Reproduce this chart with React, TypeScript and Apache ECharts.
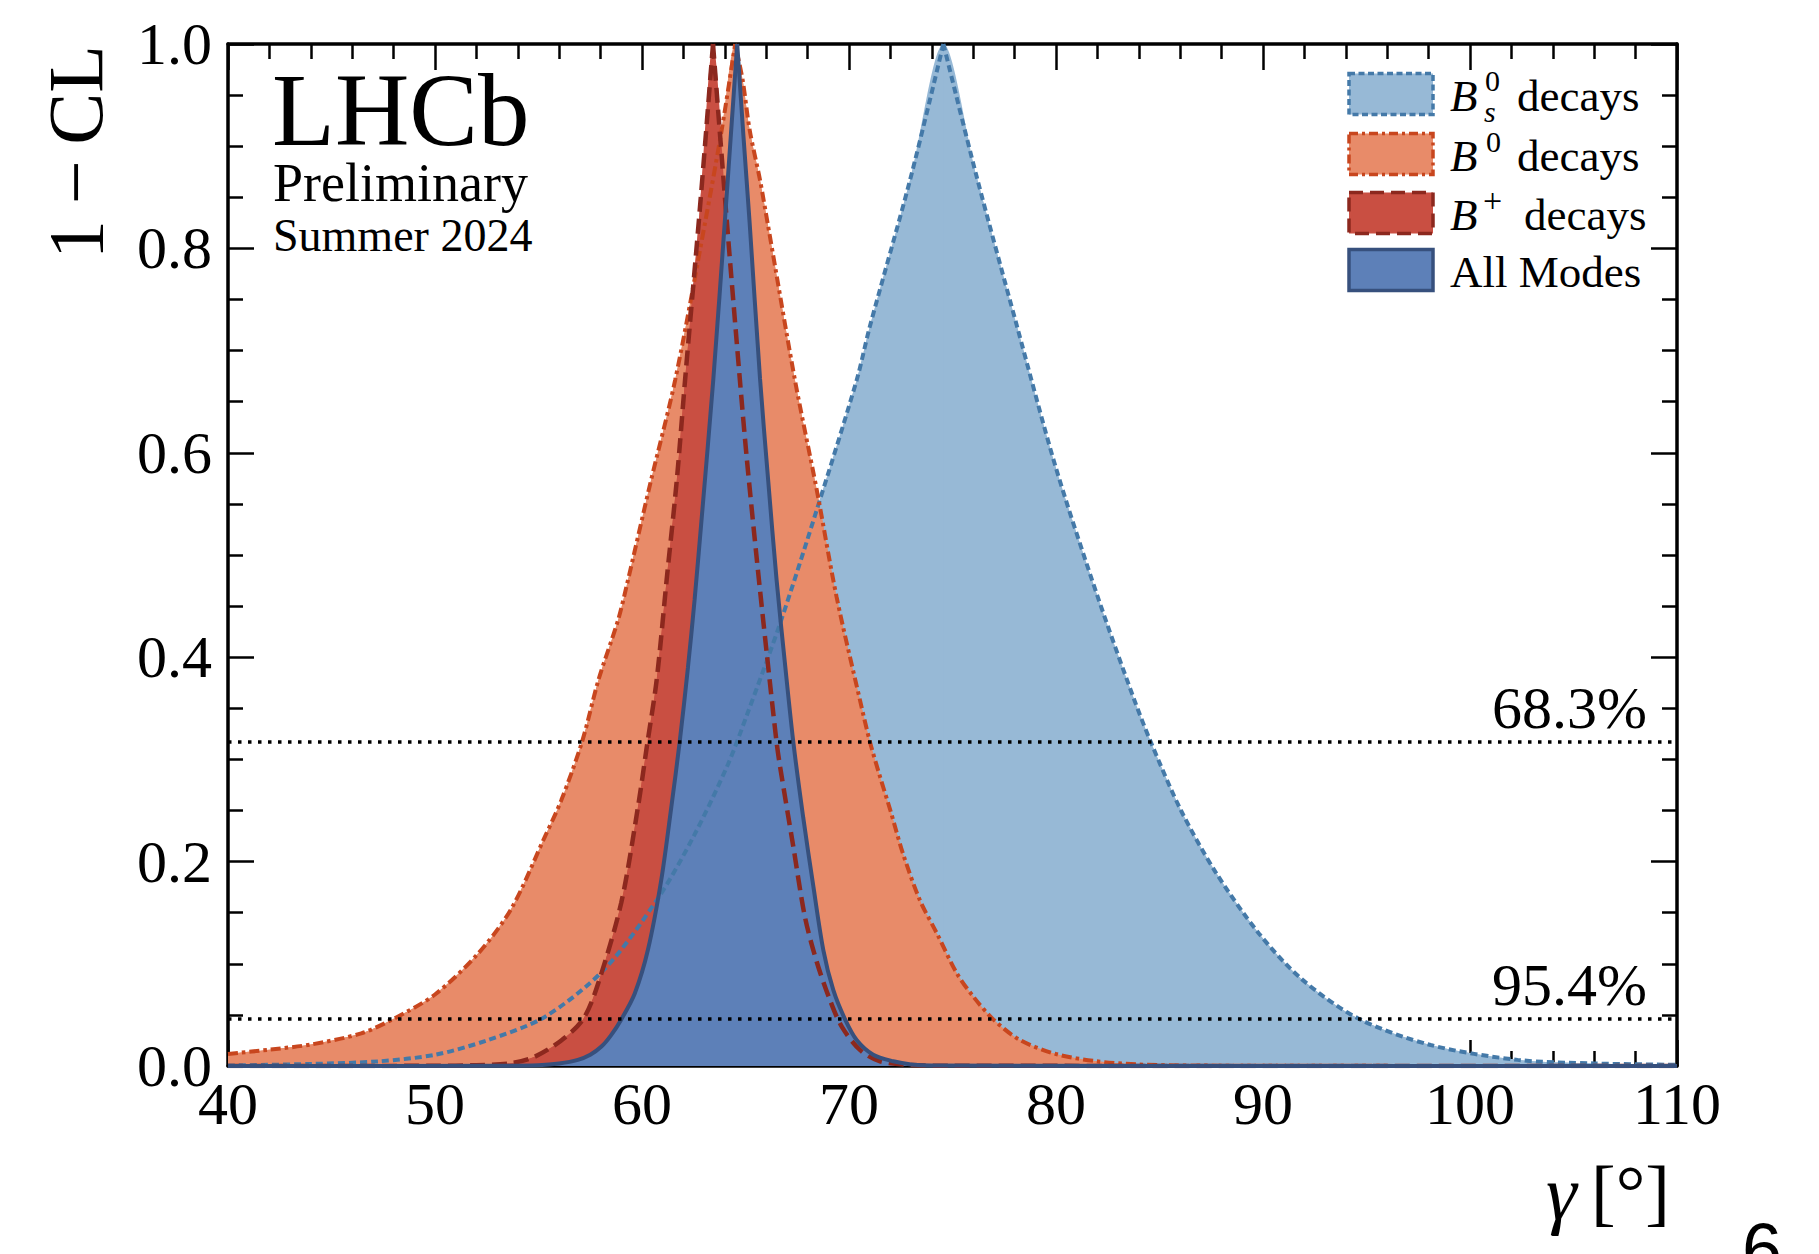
import React, { useEffect, useRef } from 'react';
import * as echarts from 'echarts';

const W = 1819;
const H = 1254;
const SERIF = "'Liberation Serif', 'Times New Roman', serif";

const xRange = [40, 110];
const yRange = [0, 1];
const clLevels = [0.317, 0.046];
const clLabels = ['68.3%', '95.4%'];

// B_s^0 decays
const bsLeft = [
  [40, 0.0005], [44, 0.002], [47.25, 0.0045], [50, 0.011], [52.5, 0.025], [55.3, 0.048],
  [58.2, 0.095], [60.8, 0.165], [62.5, 0.225], [64.15, 0.295], [65.06, 0.343], [66.67, 0.433],
  [68.44, 0.544], [70.37, 0.671], [71.0, 0.723], [72.95, 0.867], [74.56, 1.0],
];
const bsRight = [
  [74.56, 1.0], [76.17, 0.87], [78.1, 0.725], [80, 0.585], [82, 0.46], [83.75, 0.36],
  [84.58, 0.317], [86.04, 0.25], [87.7, 0.19], [89.79, 0.13], [91.87, 0.085], [94.58, 0.0467],
  [98.1, 0.0205], [102.3, 0.006], [106, 0.0025], [110, 0.0012],
];
// B^0 decays
const b0Left = [
  [40, 0.0117], [42, 0.016], [44, 0.021], [46.44, 0.032], [48.05, 0.0467], [50, 0.07],
  [52.08, 0.11], [53.69, 0.154], [55.3, 0.224], [56.1, 0.26], [57.1, 0.317], [57.9, 0.378],
  [58.84, 0.436], [59.26, 0.47], [60.4, 0.57], [61.6, 0.671], [63.04, 0.8245], [63.85, 0.916],
  [64.5, 1.0],
];
const b0Right = [
  [64.5, 1.0], [64.86, 0.965], [65.2, 0.916], [65.7, 0.867], [66.1, 0.821], [67.39, 0.671],
  [68.44, 0.564], [69.4, 0.459], [70.53, 0.358], [71.0, 0.318], [71.5, 0.283], [72.0, 0.25],
  [72.62, 0.207], [73.43, 0.162], [74.24, 0.13], [75.2, 0.091], [76.0, 0.068], [76.97, 0.0456],
  [78.26, 0.0254], [80.0, 0.0117], [81.97, 0.0046], [84, 0.0015], [87, 0.0004], [110, 0],
];
// B^+ decays
const bpLeft = [
  [40, 0], [50, 0.0002], [52, 0.0008], [53.69, 0.0028], [54.81, 0.009], [56.1, 0.025],
  [57.15, 0.0456], [57.87, 0.08], [59.0, 0.16], [59.81, 0.254], [60.23, 0.312], [60.71, 0.378],
  [61.19, 0.4755], [61.68, 0.573], [62.08, 0.671], [62.8, 0.84], [63.43, 1.0],
];
const bpRight = [
  [63.43, 1.0], [64.1, 0.826], [64.73, 0.671], [65.06, 0.595], [65.54, 0.497], [66.02, 0.405],
  [66.5, 0.317], [66.67, 0.293], [67.31, 0.2146], [67.87, 0.146], [68.44, 0.102], [69.08, 0.0646],
  [69.65, 0.0385], [70.53, 0.0157], [71.5, 0.0046], [73, 0.001], [75, 0.0002], [110, 0],
];
// All Modes
const allLeft = [
  [40, 0], [53, 0.0002], [55, 0.0008], [56, 0.0025], [56.9, 0.006], [57.5, 0.011],
  [58.04, 0.019], [58.5, 0.03], [59.0, 0.0456], [59.65, 0.071], [60.29, 0.114], [60.93, 0.182],
  [61.42, 0.254], [61.82, 0.317], [62.22, 0.39], [62.54, 0.456], [62.9, 0.54], [63.45, 0.673],
  [64.0, 0.826], [64.3, 0.913], [64.6, 1.0],
];
const allRight = [
  [64.6, 1.0], [64.9, 0.91], [65.2, 0.825], [65.7, 0.673], [66.1, 0.572], [66.5, 0.476],
  [66.9, 0.395], [67.31, 0.317], [67.79, 0.243], [68.28, 0.1755], [68.76, 0.1135], [69.24, 0.0744],
  [69.81, 0.0456], [70.37, 0.0254], [71.17, 0.011], [72.14, 0.0046], [73, 0.0015], [74, 0.0004],
  [110, 0],
];

const curves = [
  { name: 'Bs', left: bsLeft, right: bsRight, fill: '#97b9d6', stroke: '#4479a8', dash: [7, 4], width: 4 },
  { name: 'B0', left: b0Left, right: b0Right, fill: '#e88b69', stroke: '#c8461e', dash: [10, 4, 3.5, 4], width: 4 },
  { name: 'Bp', left: bpLeft, right: bpRight, fill: '#c94f42', stroke: '#8c281e', dash: [15, 7], width: 4.5 },
  { name: 'All', left: allLeft, right: allRight, fill: '#5d80b8', stroke: '#37507d', dash: 'solid' as any, width: 4 },
];

const legendRows = [
  { cy: 94, fill: '#97b9d6', stroke: '#4479a8', dash: [6, 3.5] },
  { cy: 154, fill: '#e88b69', stroke: '#c8461e', dash: [9, 4, 3, 4] },
  { cy: 213, fill: '#c94f42', stroke: '#8c281e', dash: [14, 7] },
  { cy: 270, fill: '#5d80b8', stroke: '#37507d', dash: null },
];

function txt(x: number, y: number, text: string, size: number, opts: any = {}) {
  const align = opts.align || 'left';
  const valign = opts.valign || 'middle';
  const style: any = {
    text,
    fill: '#000',
    fontSize: size,
    fontFamily: opts.family || SERIF,
    fontStyle: opts.italic ? 'italic' : 'normal',
    fontWeight: opts.weight || 'normal',
    textAlign: align,
    textVerticalAlign: valign,
    align,
    verticalAlign: valign,
  };
  if (opts.lineHeight) style.lineHeight = opts.lineHeight;
  return {
    type: 'text',
    x,
    y,
    rotation: opts.rotation || 0,
    silent: true,
    z: 100,
    style,
  };
}

function axisCommon(showLabel: boolean, isX: boolean) {
  return {
    type: 'value',
    min: isX ? xRange[0] : yRange[0],
    max: isX ? xRange[1] : yRange[1],
    interval: isX ? 10 : 0.2,
    splitLine: { show: false },
    axisLine: { show: true, onZero: false, lineStyle: { color: '#000', width: 3.5 } },
    axisTick: { show: true, inside: true, length: 26, lineStyle: { color: '#000', width: 2.5 } },
    minorTick: { show: true, splitNumber: isX ? 5 : 4, length: 15, lineStyle: { color: '#000', width: 2.5 } },
    axisLabel: showLabel
      ? {
          show: true,
          color: '#000',
          fontSize: 60,
          fontFamily: SERIF,
          margin: isX ? 8 : 16,
          formatter: isX ? (v: number) => String(Math.round(v)) : (v: number) => v.toFixed(1),
        }
      : { show: false },
  };
}

export default function App() {
  const ref = useRef<HTMLDivElement>(null);

  useEffect(() => {
    document.body.style.margin = '0';
    const chart = echarts.init(ref.current!, null, { renderer: 'svg', width: W, height: H });

    const areaOf = (d: number[][], fill: string) => ({
      type: 'line',
      data: d,
      smooth: 0.3,
      symbol: 'none',
      silent: true,
      z: 2,
      lineStyle: { width: 0, opacity: 0 },
      areaStyle: { color: fill, opacity: 1, origin: 'start' },
    });

    // full-curve fill underneath hides the seam between the two half fills
    const fillSeries = curves.flatMap((c) => [
      areaOf([...c.left, ...c.right.slice(1)], c.fill),
      areaOf(c.left, c.fill),
      areaOf(c.right, c.fill),
    ]);
    const lineSeries = curves.flatMap((c) =>
      [c.left, c.right].map((d) => ({
        type: 'line',
        data: d,
        smooth: 0.3,
        symbol: 'none',
        silent: true,
        z: 3,
        lineStyle: { color: c.stroke, width: c.width, type: c.dash, cap: 'butt' },
      }))
    );
    const clSeries = clLevels.map((v) => ({
      type: 'line',
      data: [
        [xRange[0], v],
        [xRange[1], v],
      ],
      symbol: 'none',
      silent: true,
      z: 4,
      lineStyle: { color: '#000', width: 3.5, type: [3.5, 6.5], cap: 'butt' },
    }));

    chart.setOption({
      animation: false,
      backgroundColor: '#fff',
      grid: { left: 228, right: 142, top: 44, bottom: 188 },
      xAxis: [
        { ...axisCommon(true, true), position: 'bottom' },
        { ...axisCommon(false, true), position: 'top' },
      ],
      yAxis: [
        { ...axisCommon(true, false), position: 'left' },
        { ...axisCommon(false, false), position: 'right' },
      ],
      series: [...fillSeries, ...lineSeries, ...clSeries],
    });

    const clGraphics = clLevels.map((v, i) => {
      const p = chart.convertToPixel({ gridIndex: 0 }, [xRange[1], v]) as number[];
      return txt(p[0] - 30, p[1] - 34, clLabels[i], 60, { align: 'right', lineHeight: 50 });
    });

    const legendGraphics: any[] = [];
    legendRows.forEach((r) => {
      legendGraphics.push({
        type: 'rect',
        shape: { x: 1349, y: r.cy - 20.5, width: 84, height: 41 },
        silent: true,
        z: 100,
        style: {
          fill: r.fill,
          stroke: r.stroke,
          lineWidth: 3.5,
          lineDash: r.dash || undefined,
        },
      });
    });
    // row 1
    legendGraphics.push(txt(1450, 96, 'B', 45, { italic: true, lineHeight: 36 }));
    legendGraphics.push(txt(1485, 80, '0', 30, { lineHeight: 26 }));
    legendGraphics.push(txt(1484, 111, 's', 30, { italic: true, lineHeight: 26 }));
    legendGraphics.push(txt(1517, 96, 'decays', 45, { lineHeight: 36 }));
    // row 2
    legendGraphics.push(txt(1450, 156, 'B', 45, { italic: true, lineHeight: 36 }));
    legendGraphics.push(txt(1486, 141, '0', 30, { lineHeight: 26 }));
    legendGraphics.push(txt(1517, 156, 'decays', 45, { lineHeight: 36 }));
    // row 3
    legendGraphics.push(txt(1450, 215, 'B', 45, { italic: true, lineHeight: 36 }));
    legendGraphics.push(txt(1483, 200, '+', 34, { lineHeight: 28 }));
    legendGraphics.push(txt(1524, 215, 'decays', 45, { lineHeight: 36 }));
    // row 4
    legendGraphics.push(txt(1450, 272, 'All Modes', 45, { lineHeight: 36 }));

    const staticGraphics = [
      txt(272, 110, 'LHCb', 103, { lineHeight: 76 }),
      txt(273, 183, 'Preliminary', 54, { lineHeight: 42 }),
      txt(273, 235, 'Summer 2024', 46, { lineHeight: 36 }),
      txt(75, 45, '1\u2009\u2212\u2009CL', 78, { align: 'right', rotation: Math.PI / 2 }),
      txt(1546, 1192, '\u03b3', 78, { italic: true }),
      txt(1670, 1192, '[\u00b0]', 74, { align: 'right' }),
      txt(1742, 1249, '6', 72, { family: "'Liberation Sans', 'DejaVu Sans', sans-serif" }),
    ];

    chart.setOption({ graphic: [...staticGraphics, ...legendGraphics, ...clGraphics] });

    return () => chart.dispose();
  }, []);

  return <div ref={ref} style={{ width: W, height: H }} />;
}
